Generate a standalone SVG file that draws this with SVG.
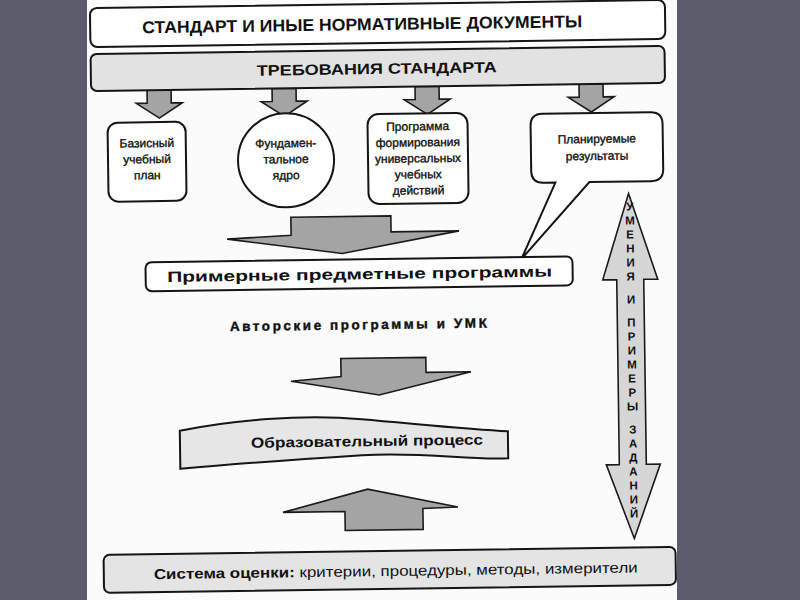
<svg xmlns="http://www.w3.org/2000/svg" width="800" height="600" viewBox="0 0 800 600">
<defs>
<style>
.box{stroke:#151515;stroke-width:2;}
.arr{fill:#a4a4a4;stroke:#1a1a1a;stroke-width:1.6;stroke-linejoin:miter;}
.t{font-family:"Liberation Sans",Arial,sans-serif;fill:#111;}
.h{font-weight:bold;}
.n{font-size:12px;text-anchor:middle;stroke:#111;stroke-width:0.35;}
.v{font-size:11.5px;font-weight:bold;text-anchor:middle;}
</style>
<path id="da" d="M-12,0 V13 H-23 L0,28 L23,13 H12 V0 Z"/>
</defs>
<rect width="800" height="600" fill="#5a5c6b"/>
<rect x="87" y="0" width="590" height="600" fill="#fbfbfb"/>
<g transform="rotate(-0.8 380 300)">
<g id="connectors">
<use href="#da" class="arr" x="162" y="87"/>
<use href="#da" class="arr" x="287" y="87"/>
<use href="#da" class="arr" x="430" y="87"/>
<use href="#da" class="arr" x="594" y="87"/>
<path class="arr" d="M292,216 H392 V232 H460 L343,253 L228,237 L292,234 Z"/>
<path class="arr" d="M340,358 H425 V373 H470 L378,395 L290,380 L340,376 Z"/>
<path class="arr" d="M342,530 V511 L280,511 L365,489 L455,508 L420,509 V530 Z"/>
<path class="arr" style="fill:#d6d6d6" d="M630,197 L658,283 L644,283 L644,468 L658,468 L631,542 L604,468 L617,468 L617,283 L603,283 Z"/>
<g class="t v">
<text x="631" y="214">У</text><text x="631" y="228">М</text><text x="631" y="242">Е</text><text x="631" y="256">Н</text><text x="631" y="270">И</text><text x="631" y="284">Я</text>
<text x="631" y="307">И</text>
<text x="631" y="330">П</text><text x="631" y="344">Р</text><text x="631" y="358">И</text><text x="631" y="372">М</text><text x="631" y="386">Е</text><text x="631" y="400">Р</text><text x="631" y="414">Ы</text>
<text x="631" y="437">З</text><text x="631" y="451">А</text><text x="631" y="465">Д</text><text x="631" y="479">А</text><text x="631" y="493">Н</text><text x="631" y="507">И</text><text x="631" y="521">Й</text>
</g>
</g>
<g id="standard">
<rect class="box" x="94" y="4" width="575" height="39" rx="7" fill="#fff"/>
<text class="t h" x="366" y="30" font-size="17" text-anchor="middle" textLength="440" lengthAdjust="spacingAndGlyphs">СТАНДАРТ И ИНЫЕ НОРМАТИВНЫЕ ДОКУМЕНТЫ</text>
</g>
<g id="requirements">
<rect class="box" x="94" y="50" width="574" height="37" rx="6" fill="#e2e2e2"/>
<text class="t h" x="380" y="74" font-size="15" text-anchor="middle" textLength="240" lengthAdjust="spacingAndGlyphs">ТРЕБОВАНИЯ СТАНДАРТА</text>
</g>
<g id="basic-plan">
<rect class="box" x="110" y="119" width="78" height="79" rx="10" fill="#fff"/>
<text class="t n"><tspan x="149" y="144">Базисный</tspan><tspan x="149" y="160">учебный</tspan><tspan x="149" y="176">план</tspan></text>
</g>
<g id="core">
<ellipse class="box" cx="288" cy="159" rx="48" ry="47" fill="#fff"/>
<text class="t n"><tspan x="288" y="146">Фундамен-</tspan><tspan x="288" y="162">тальное</tspan><tspan x="288" y="178">ядро</tspan></text>
</g>
<g id="uud-program">
<rect class="box" x="370" y="114" width="100" height="90" rx="11" fill="#fff"/>
<text class="t n"><tspan x="420" y="131">Программа</tspan><tspan x="420" y="147">формирования</tspan><tspan x="420" y="163">универсальных</tspan><tspan x="420" y="179">учебных</tspan><tspan x="420" y="195">действий</tspan></text>
</g>
<g id="planned-results">
<path class="box" fill="#fff" d="M545,116 H653 Q665,116 665,128 V173 Q665,185 653,185 H591 L522,261 L557,185 H545 Q533,185 533,173 V128 Q533,116 545,116 Z"/>
<text class="t n"><tspan x="599" y="146">Планируемые</tspan><tspan x="599" y="163">результаты</tspan></text>
</g>
<g id="sample-programs">
<rect class="box" x="146" y="259" width="427" height="29" rx="6" fill="#fff"/>
<text class="t h" x="360" y="279" font-size="15" text-anchor="middle" textLength="385" lengthAdjust="spacingAndGlyphs">Примерные предметные программы</text>
</g>
<g id="author-programs">
<text class="t h" x="358" y="329" font-size="13.5" text-anchor="middle" textLength="257" lengthAdjust="spacing" stroke="#111" stroke-width="0.4">Авторские программы и УМК</text>
</g>
<g id="edu-process">
<path class="box" fill="#e6e6e6" d="M178,428 C230,418 300,413 360,419 S470,431 506,433 L506,460 C470,462 420,452 360,455 S230,462 178,466 Z"/>
<text class="t h" x="365" y="446" font-size="14.5" text-anchor="middle" textLength="232" lengthAdjust="spacingAndGlyphs">Образовательный процесс</text>
</g>
<g id="assessment">
<rect class="box" x="100" y="551" width="572" height="38" rx="6" fill="#e4e4e4"/>
<text class="t" x="392" y="576" font-size="14.5" text-anchor="middle" textLength="484" lengthAdjust="spacingAndGlyphs"><tspan font-weight="bold">Система оценки:</tspan> критерии, процедуры, методы, измерители</text>
</g>
</g>
</svg>
